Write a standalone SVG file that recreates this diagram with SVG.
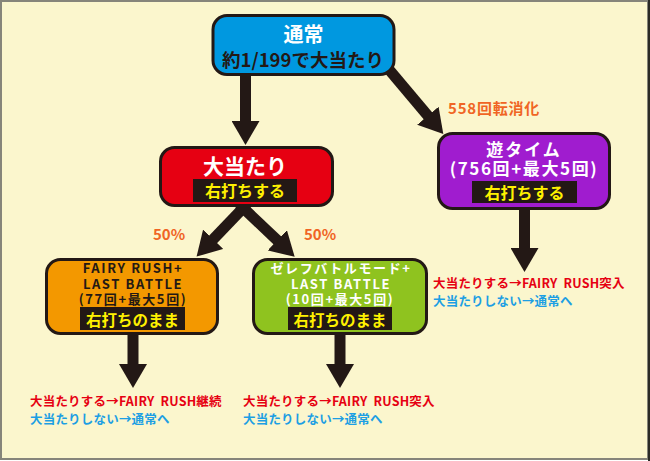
<svg xmlns="http://www.w3.org/2000/svg" width="650" height="461" viewBox="0 0 650 461">
<defs>
<style>
text{font-family:"Noto Sans CJK JP","Noto Sans",sans-serif;font-weight:bold}
.node{stroke:#231815;stroke-width:3}
.lbl{fill:#231815}
.yel{fill:#fff100;font-size:16px;text-anchor:middle}
.yel2{fill:#fff100;font-size:15.5px;text-anchor:middle}
.wt{fill:#ffffff;text-anchor:middle}
.dk{fill:#231815;text-anchor:middle}
.sm{font-size:13px;letter-spacing:1.6px}
.conn{stroke:#231815;stroke-width:11;fill:none}
.red{fill:#e60012;font-size:12.5px;letter-spacing:0.2px;white-space:pre}
.blu{fill:#1d9fe3;font-size:12.5px;letter-spacing:0.2px}
.org{fill:#f06524;font-size:15px}
</style>
<marker id="ah" markerUnits="userSpaceOnUse" markerWidth="24" markerHeight="28" refX="1" refY="14" orient="auto">
<path d="M0,0 L24,14 L0,28 z" fill="#231815"/>
</marker>
</defs>
<rect x="1" y="1" width="647" height="458" fill="#fbf6cd" stroke="#86857a" stroke-width="2"/>
<line x1="649" y1="0" x2="649" y2="461" stroke="#2a2a25" stroke-width="2"/>

<g id="connectors">
<line class="conn" x1="245.5" y1="72" x2="245.5" y2="122" marker-end="url(#ah)"/>
<line class="conn" x1="386" y1="66" x2="428.5" y2="116.5" stroke-width="13" marker-end="url(#ah)"/>
<line class="conn" x1="247" y1="204" x2="212.5" y2="240" marker-end="url(#ah)"/>
<line class="conn" x1="239" y1="204" x2="278" y2="241" marker-end="url(#ah)"/>
<line class="conn" x1="524.5" y1="207" x2="524.5" y2="249" marker-end="url(#ah)"/>
<line class="conn" x1="133" y1="333" x2="133" y2="365" marker-end="url(#ah)"/>
<line class="conn" x1="340" y1="333" x2="340" y2="365" marker-end="url(#ah)"/>
</g>

<g id="node-normal">
<rect class="node" x="213" y="15.5" width="181" height="59" rx="14" fill="#0098e0"/>
<text class="wt" x="303.5" y="42" font-size="20">通常</text>
<text class="dk" x="303" y="67" font-size="18.5">約1/199で大当たり</text>
</g>

<g id="node-hit">
<rect class="node" x="160.5" y="147.5" width="172" height="58" rx="14" fill="#e60012"/>
<text class="wt" x="245" y="174" font-size="21">大当たり</text>
<rect class="lbl" x="193" y="179" width="104" height="23"/>
<text class="yel" x="245" y="197">右打ちする</text>
</g>

<g id="node-yutime">
<rect class="node" x="438.5" y="133.5" width="171" height="75" rx="14" fill="#a01ccf"/>
<text class="wt" x="524" y="156" font-size="17" letter-spacing="2">遊タイム</text>
<text class="wt" x="524" y="175" font-size="17" letter-spacing="1.6">(756回+最大5回)</text>
<rect class="lbl" x="472" y="181" width="105" height="22"/>
<text class="yel" x="524.5" y="198.5">右打ちする</text>
</g>

<g id="node-fairy">
<rect class="node" x="46.5" y="259.5" width="171" height="74" rx="14" fill="#f39800"/>
<text class="dk sm" x="133" y="273">FAIRY RUSH+</text>
<text class="dk sm" x="133" y="289">LAST BATTLE</text>
<text class="dk sm" x="133" y="304" letter-spacing="0.6">(77回+最大5回)</text>
<rect class="lbl" x="80" y="307" width="105" height="23"/>
<text class="yel2" x="132.5" y="325.5">右打ちのまま</text>
</g>

<g id="node-zeref">
<rect class="node" x="253.5" y="259.5" width="173" height="74" rx="14" fill="#8fc31f"/>
<text class="wt sm" x="341" y="273" letter-spacing="0.5">ゼレフバトルモード+</text>
<text class="wt sm" x="341" y="289">LAST BATTLE</text>
<text class="wt sm" x="340" y="304" letter-spacing="0.6">(10回+最大5回)</text>
<rect class="lbl" x="288" y="307" width="104" height="23"/>
<text class="yel2" x="340" y="325.5">右打ちのまま</text>
</g>

<g id="labels">
<text class="org" x="448" y="114" letter-spacing="0.8">558回転消化</text>
<text class="org" x="153" y="240">50%</text>
<text class="org" x="304" y="240">50%</text>
<text class="red" x="433" y="288">大当たりする→FAIRY  RUSH突入</text>
<text class="blu" x="433" y="306">大当たりしない→通常へ</text>
<text class="red" x="30" y="406">大当たりする→FAIRY  RUSH継続</text>
<text class="blu" x="30" y="424">大当たりしない→通常へ</text>
<text class="red" x="243" y="406">大当たりする→FAIRY  RUSH突入</text>
<text class="blu" x="243" y="424">大当たりしない→通常へ</text>
</g>
</svg>
